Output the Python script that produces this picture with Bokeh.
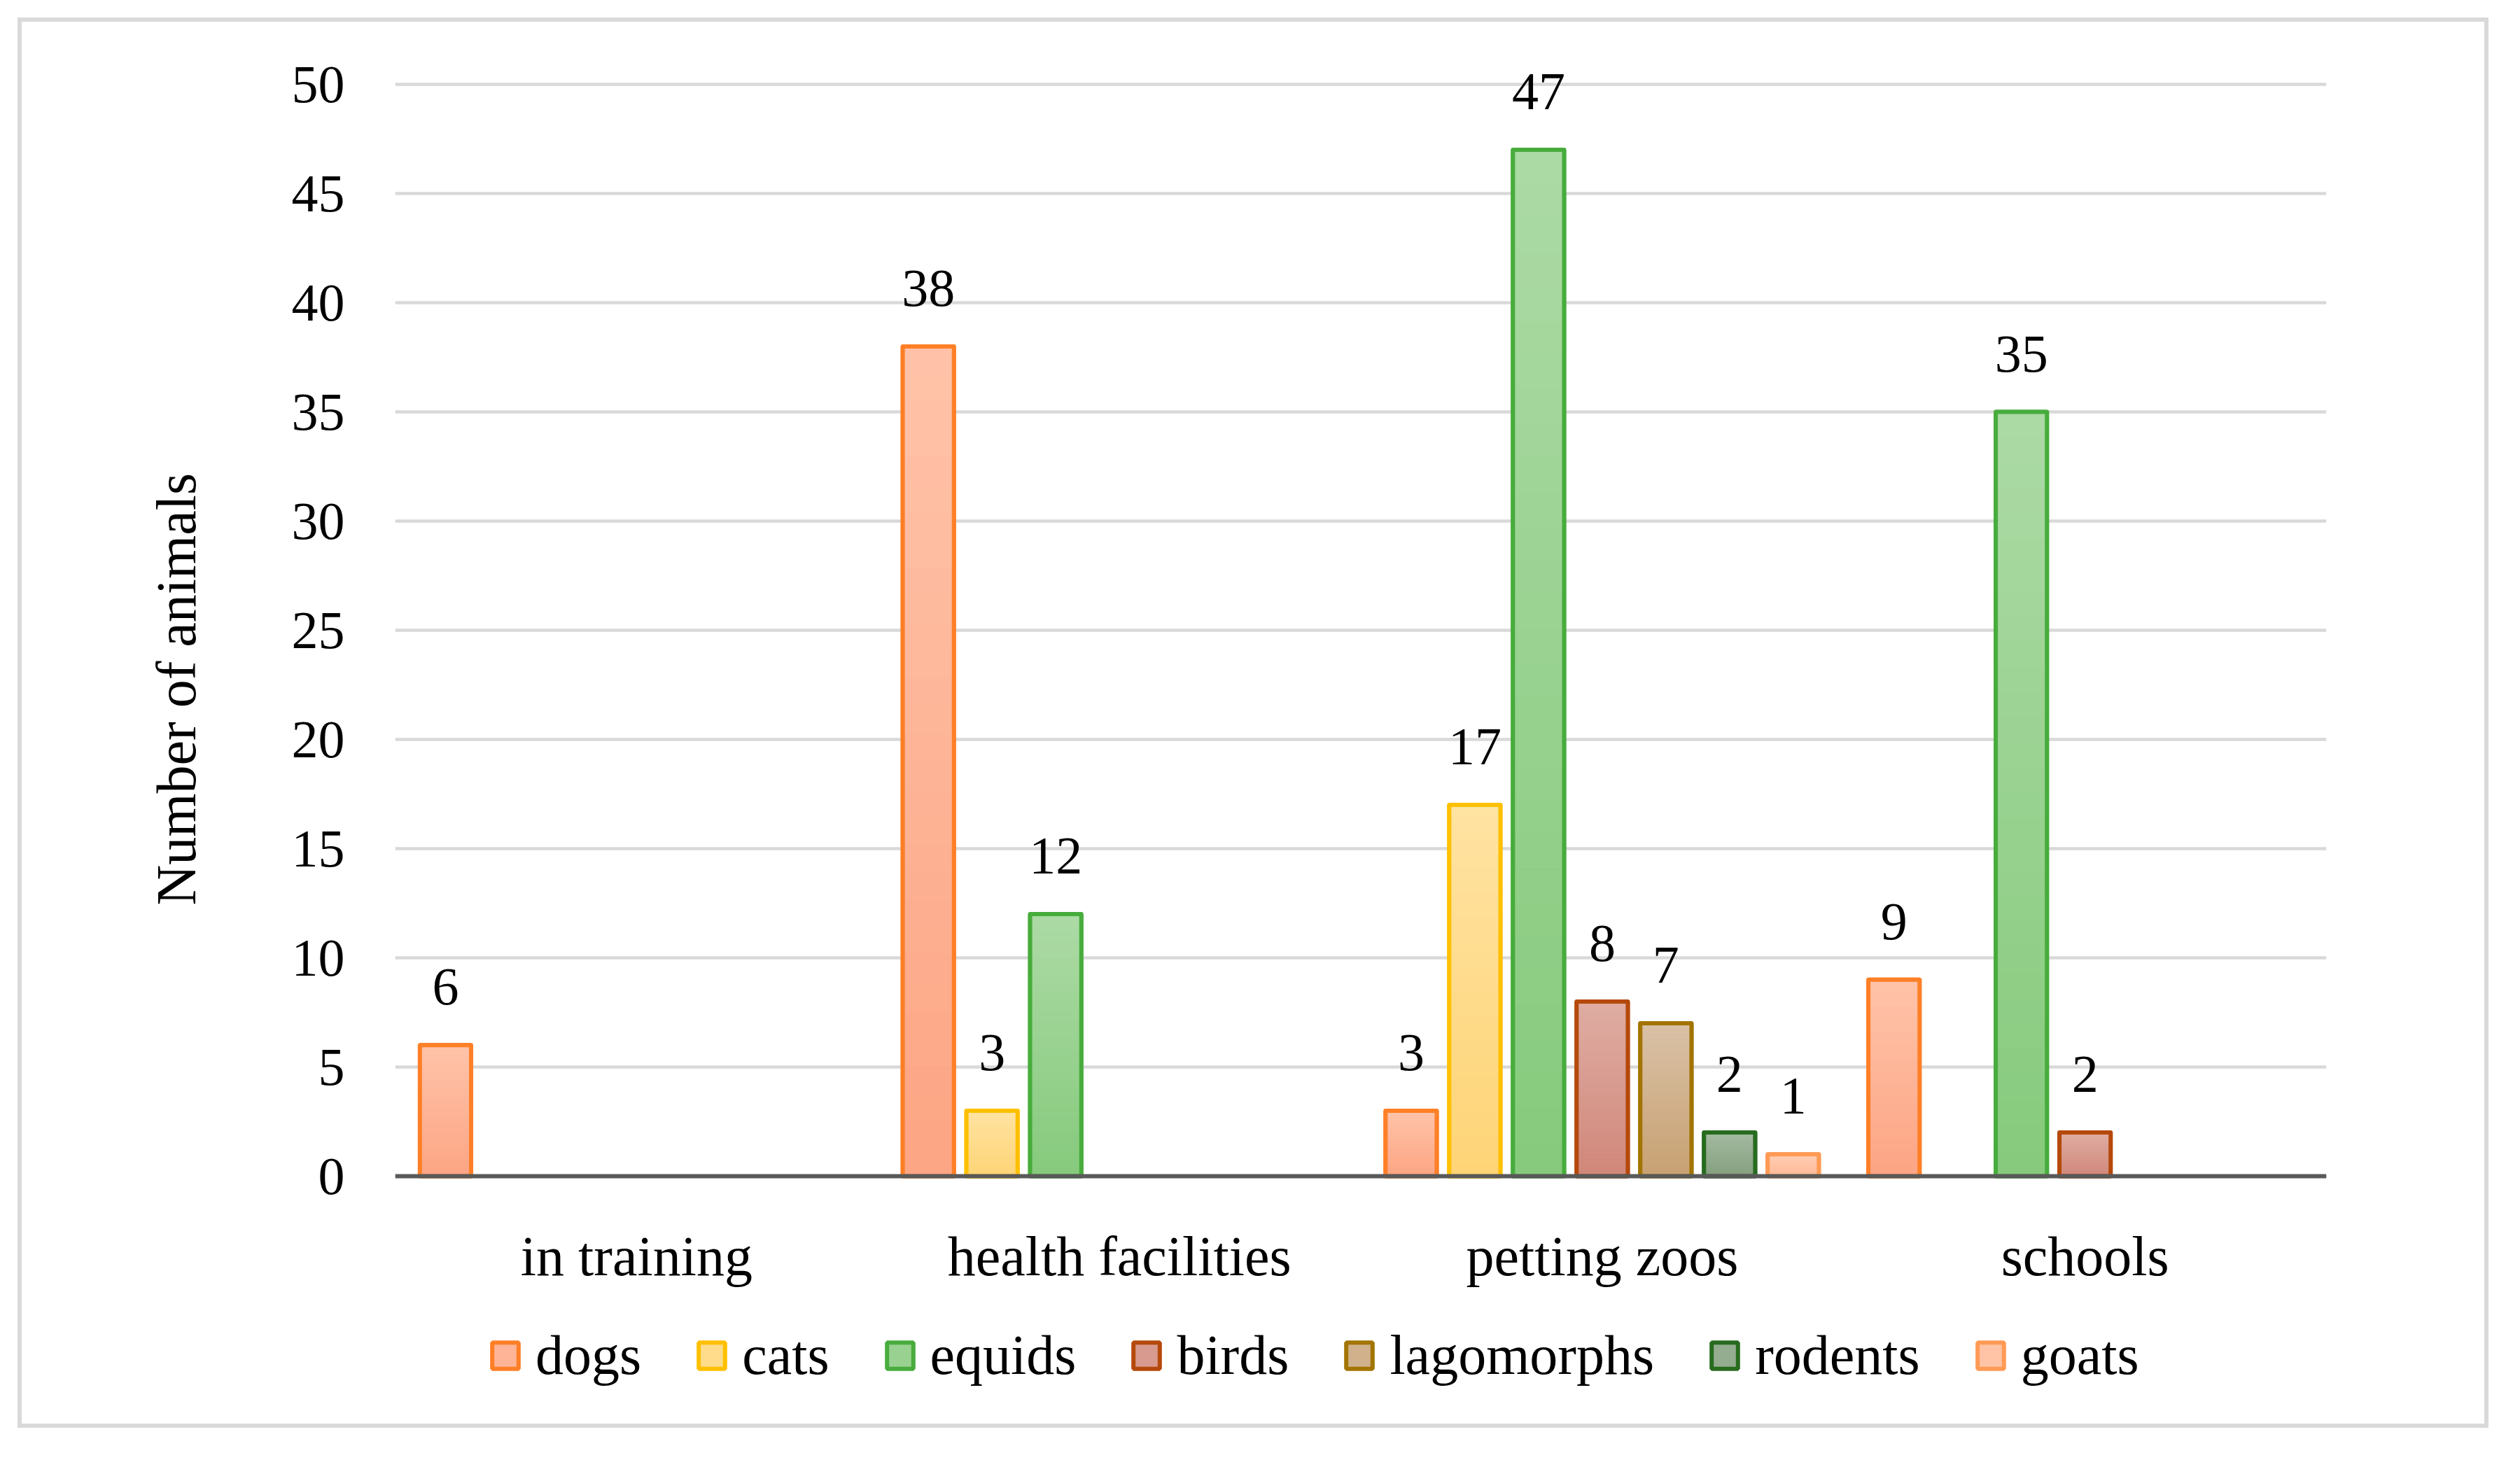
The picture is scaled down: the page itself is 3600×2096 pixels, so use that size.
import numpy as np
from bokeh.plotting import figure
from bokeh.models import (FactorRange, Range1d, FixedTicker, Legend, LegendItem,
                          Title, ColumnDataSource)
from bokeh.transform import dodge
from bokeh.core.properties import value
from bokeh.embed import file_html
from bokeh.resources import INLINE

# ---------------- data ----------------
categories = ["in training", "health facilities", "petting zoos", "schools"]
series_names = ["dogs", "cats", "equids", "birds", "lagomorphs", "rodents", "goats"]
dogs = [6, 38, 3, 9]
cats = [0, 3, 17, 0]
equids = [0, 12, 47, 35]
birds = [0, 0, 8, 2]
lagomorphs = [0, 0, 7, 0]
rodents = [0, 0, 2, 0]
goats = [0, 0, 1, 0]
y_ticks = [0, 5, 10, 15, 20, 25, 30, 35, 40, 45, 50]
y_title = "Number of animals"

series_values = [dogs, cats, equids, birds, lagomorphs, rodents, goats]

# ---------------- styles ----------------
line_colors = ["#FF7F27", "#FFC000", "#47AC3C", "#B5490B", "#A27400", "#276B1F", "#FF9A55"]
bottom_colors = ["#FCA584", "#FED476", "#86CA7C", "#D1877A", "#C8A172", "#849F7E", "#FFBA98"]
top_colors = ["#FFC3A9", "#FFE3A2", "#ACDAA5", "#DFADA3", "#D9C1A6", "#A5BBA3", "#FFCDB3"]

FONT = "Liberation Serif"
BAR_W = 0.106
STEP = 0.1319
N_SLICES = 30


def hex2rgb(h):
    h = h.lstrip("#")
    return np.array([int(h[i:i + 2], 16) for i in (0, 2, 4)], dtype=float)


def mix(c1, c2, t):
    c = hex2rgb(c1) * (1 - t) + hex2rgb(c2) * t
    return "#%02X%02X%02X" % tuple(int(round(v)) for v in c)


# frame extends below the axis so the legend can sit inside it
p = figure(x_range=FactorRange(*categories), y_range=Range1d(-11.218, 50.994),
           width=3580, height=2065, output_backend="svg", toolbar_location=None,
           min_border_left=564, min_border_right=257, min_border_top=89,
           min_border_bottom=35)
p.styles = {"box-shadow": "inset 0 0 0 25px white, inset 0 0 0 31px #D9D9D9"}
p.outline_line_color = None
p.background_fill_color = None
p.border_fill_color = None

p.xgrid.grid_line_color = None
p.ygrid.grid_line_color = "#D9D9D9"
p.ygrid.grid_line_width = 4.5

p.yaxis.ticker = FixedTicker(ticks=y_ticks)
p.yaxis.axis_line_color = None
p.yaxis.major_tick_line_color = None
p.yaxis.minor_tick_line_color = None
p.yaxis.major_tick_out = 0
p.yaxis.major_tick_in = 0
p.yaxis.major_label_standoff = 72
p.yaxis.major_label_text_font = FONT
p.yaxis.major_label_text_font_size = "76px"
p.yaxis.major_label_text_color = "black"

p.xaxis.fixed_location = 0
p.xaxis.axis_line_color = "#595959"
p.xaxis.axis_line_width = 6
p.xaxis.major_tick_line_color = None
p.xaxis.minor_tick_line_color = None
p.xaxis.major_label_standoff = 64
p.xaxis.major_label_text_font = FONT
p.xaxis.major_label_text_font_size = "80px"
p.xaxis.major_label_text_color = "black"

legend_items = []
for i, (name, vals) in enumerate(zip(series_names, series_values)):
    off = (i - 3) * STEP
    cats_nz = [c for c, v in zip(categories, vals) if v > 0]
    vals_nz = [v for v in vals if v > 0]
    src = ColumnDataSource(dict(cat=cats_nz, val=vals_nz, lab=[str(v) for v in vals_nz]))

    # base bar (used for legend)
    base = p.vbar(x=dodge("cat", off, range=p.x_range), top="val", bottom=0,
                  width=BAR_W, source=src,
                  fill_color=mix(bottom_colors[i], top_colors[i], 0.5),
                  line_color=line_colors[i], line_width=6)

    # gradient slices
    sc, sb, st, scol = [], [], [], []
    for c, v in zip(cats_nz, vals_nz):
        for k in range(N_SLICES):
            sc.append(c)
            sb.append(v * k / N_SLICES)
            st.append(v * (k + 1) / N_SLICES)
            scol.append(mix(bottom_colors[i], top_colors[i], (k + 0.5) / N_SLICES))
    ssrc = ColumnDataSource(dict(cat=sc, b=sb, t=st, col=scol))
    p.vbar(x=dodge("cat", off, range=p.x_range), bottom="b", top="t", width=BAR_W,
           source=ssrc, fill_color="col", line_color="col", line_width=1)

    # outline on top
    p.vbar(x=dodge("cat", off, range=p.x_range), top="val", bottom=0, width=BAR_W,
           source=src, fill_color=None, line_color=line_colors[i], line_width=6,
           line_join="round")

    # value labels
    p.text(x=dodge("cat", off, range=p.x_range), y="val", text="lab", source=src,
           text_align="center", text_baseline="alphabetic", y_offset=-83,
           text_font=value(FONT), text_font_size=value("76px"), text_color="black")

    legend_items.append(LegendItem(label=name, renderers=[base]))

legend = Legend(items=legend_items, orientation="horizontal", location=(134, 48),
                glyph_width=47, glyph_height=47, label_standoff=20, spacing=77,
                padding=0, margin=0, border_line_color=None, background_fill_alpha=0,
                label_text_font=FONT, label_text_font_size="80px",
                label_text_color="black")
p.add_layout(legend, "center")

ytitle = Title(text=y_title, align="left", vertical_align="bottom", offset=737,
               standoff=236, text_font=FONT, text_font_size="80px",
               text_font_style="normal", text_color="black")
p.add_layout(ytitle, "left")

open("out.html", "w").write(file_html(p, INLINE))
